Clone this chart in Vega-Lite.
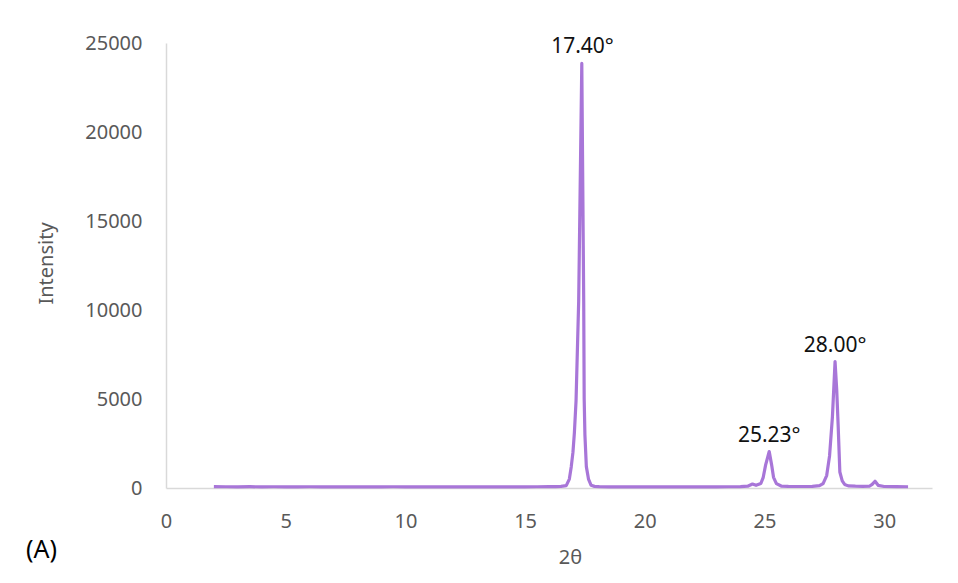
{
  "$schema": "https://vega.github.io/schema/vega-lite/v6.json",
  "width": 766,
  "height": 445,
  "autosize": {"type": "none"},
  "padding": {"left": 166, "top": 43, "right": 26, "bottom": 95},
  "background": "white",
  "config": {"view": {"stroke": null}, "font": "Noto Sans"},
  "title": {"text": "(A)", "orient": "bottom", "anchor": "start", "frame": "group", "dx": -140, "offset": -29, "fontSize": 25, "fontWeight": "normal", "color": "#000000"},
  "datasets": {
    "xrd": [
      {"two_theta": 2.0, "intensity": 75}, {"two_theta": 2.5, "intensity": 70}, {"two_theta": 3.0, "intensity": 68},
      {"two_theta": 3.5, "intensity": 72}, {"two_theta": 4.0, "intensity": 65}, {"two_theta": 4.5, "intensity": 70},
      {"two_theta": 5.0, "intensity": 66}, {"two_theta": 5.5, "intensity": 64}, {"two_theta": 6.0, "intensity": 70},
      {"two_theta": 6.5, "intensity": 62}, {"two_theta": 7.0, "intensity": 68}, {"two_theta": 7.5, "intensity": 65},
      {"two_theta": 8.0, "intensity": 60}, {"two_theta": 8.5, "intensity": 66}, {"two_theta": 9.0, "intensity": 62},
      {"two_theta": 9.5, "intensity": 70}, {"two_theta": 10.0, "intensity": 64}, {"two_theta": 10.5, "intensity": 60},
      {"two_theta": 11.0, "intensity": 66}, {"two_theta": 11.5, "intensity": 62}, {"two_theta": 12.0, "intensity": 68},
      {"two_theta": 12.5, "intensity": 64}, {"two_theta": 13.0, "intensity": 60}, {"two_theta": 13.5, "intensity": 66},
      {"two_theta": 14.0, "intensity": 62}, {"two_theta": 14.5, "intensity": 68}, {"two_theta": 15.0, "intensity": 64},
      {"two_theta": 15.5, "intensity": 70}, {"two_theta": 16.0, "intensity": 72}, {"two_theta": 16.3, "intensity": 80},
      {"two_theta": 16.5, "intensity": 90}, {"two_theta": 16.72, "intensity": 130}, {"two_theta": 16.85, "intensity": 500},
      {"two_theta": 16.93, "intensity": 1200}, {"two_theta": 17.0, "intensity": 2000}, {"two_theta": 17.06, "intensity": 3100},
      {"two_theta": 17.13, "intensity": 4900}, {"two_theta": 17.24, "intensity": 10500}, {"two_theta": 17.37, "intensity": 23850},
      {"two_theta": 17.45, "intensity": 10500}, {"two_theta": 17.47, "intensity": 5000}, {"two_theta": 17.5, "intensity": 3000},
      {"two_theta": 17.56, "intensity": 1200}, {"two_theta": 17.65, "intensity": 500}, {"two_theta": 17.76, "intensity": 150},
      {"two_theta": 17.9, "intensity": 90}, {"two_theta": 18.1, "intensity": 75}, {"two_theta": 18.5, "intensity": 68},
      {"two_theta": 19.0, "intensity": 64}, {"two_theta": 19.5, "intensity": 66}, {"two_theta": 20.0, "intensity": 62},
      {"two_theta": 20.5, "intensity": 65}, {"two_theta": 21.0, "intensity": 60}, {"two_theta": 21.5, "intensity": 64},
      {"two_theta": 22.0, "intensity": 62}, {"two_theta": 22.5, "intensity": 66}, {"two_theta": 23.0, "intensity": 64},
      {"two_theta": 23.5, "intensity": 70}, {"two_theta": 24.0, "intensity": 80}, {"two_theta": 24.3, "intensity": 100},
      {"two_theta": 24.5, "intensity": 220}, {"two_theta": 24.65, "intensity": 150}, {"two_theta": 24.85, "intensity": 250},
      {"two_theta": 24.95, "intensity": 600}, {"two_theta": 25.05, "intensity": 1300}, {"two_theta": 25.2, "intensity": 2050},
      {"two_theta": 25.3, "intensity": 1300}, {"two_theta": 25.38, "intensity": 600}, {"two_theta": 25.5, "intensity": 250},
      {"two_theta": 25.7, "intensity": 110}, {"two_theta": 26.0, "intensity": 90}, {"two_theta": 26.5, "intensity": 85},
      {"two_theta": 27.0, "intensity": 90}, {"two_theta": 27.3, "intensity": 130}, {"two_theta": 27.45, "intensity": 250},
      {"two_theta": 27.6, "intensity": 700}, {"two_theta": 27.72, "intensity": 1800}, {"two_theta": 27.84, "intensity": 4000},
      {"two_theta": 27.95, "intensity": 7100}, {"two_theta": 28.02, "intensity": 5500}, {"two_theta": 28.08, "intensity": 3500},
      {"two_theta": 28.15, "intensity": 900}, {"two_theta": 28.25, "intensity": 400}, {"two_theta": 28.35, "intensity": 200},
      {"two_theta": 28.5, "intensity": 120}, {"two_theta": 28.8, "intensity": 100}, {"two_theta": 29.1, "intensity": 95},
      {"two_theta": 29.4, "intensity": 110}, {"two_theta": 29.5, "intensity": 200}, {"two_theta": 29.62, "intensity": 380},
      {"two_theta": 29.75, "intensity": 150}, {"two_theta": 30.0, "intensity": 85}, {"two_theta": 30.5, "intensity": 75},
      {"two_theta": 31.0, "intensity": 70}
    ],
    "peaks": [
      {"two_theta": 17.4, "intensity": 23850, "label": "17.40°"},
      {"two_theta": 25.2, "intensity": 2050, "label": "25.23°"},
      {"two_theta": 27.95, "intensity": 7100, "label": "28.00°"}
    ]
  },
  "layer": [
    {
      "data": {"name": "xrd"},
      "mark": {"type": "line", "color": "#A876D8", "strokeWidth": 3.2, "strokeJoin": "round"},
      "encoding": {
        "x": {
          "field": "two_theta", "type": "quantitative",
          "scale": {"domain": [0, 32], "nice": false, "zero": false},
          "axis": {
            "values": [0, 5, 10, 15, 20, 25, 30], "ticks": false, "grid": false, "labelFlush": false,
            "domainColor": "#d9d9d9", "domainWidth": 1.5,
            "labelFontSize": 20, "labelColor": "#595959", "labelPadding": 23, "labelFont": "Noto Sans",
            "title": "2θ", "titleFontSize": 20, "titleColor": "#595959", "titleFontWeight": "normal",
            "titleX": 404, "titleY": 69, "titleBaseline": "middle"
          }
        },
        "y": {
          "field": "intensity", "type": "quantitative",
          "scale": {"domain": [0, 25000], "nice": false},
          "axis": {
            "values": [0, 5000, 10000, 15000, 20000, 25000], "format": "d", "ticks": false, "grid": false, "labelFlush": false,
            "domainColor": "#d9d9d9", "domainWidth": 1.5,
            "labelFontSize": 20, "labelColor": "#595959", "labelPadding": 24, "labelFont": "Noto Sans",
            "title": "Intensity", "titleFontSize": 20, "titleColor": "#595959", "titleFontWeight": "normal",
            "titleX": -120, "titleY": 220, "titleBaseline": "middle", "titleAngle": -90
          }
        }
      }
    },
    {
      "data": {"name": "peaks"},
      "mark": {"type": "text", "baseline": "bottom", "dy": -6, "fontSize": 21, "color": "#111111", "font": "Noto Sans"},
      "encoding": {
        "x": {"field": "two_theta", "type": "quantitative"},
        "y": {"field": "intensity", "type": "quantitative"},
        "text": {"field": "label"}
      }
    }
  ]
}
